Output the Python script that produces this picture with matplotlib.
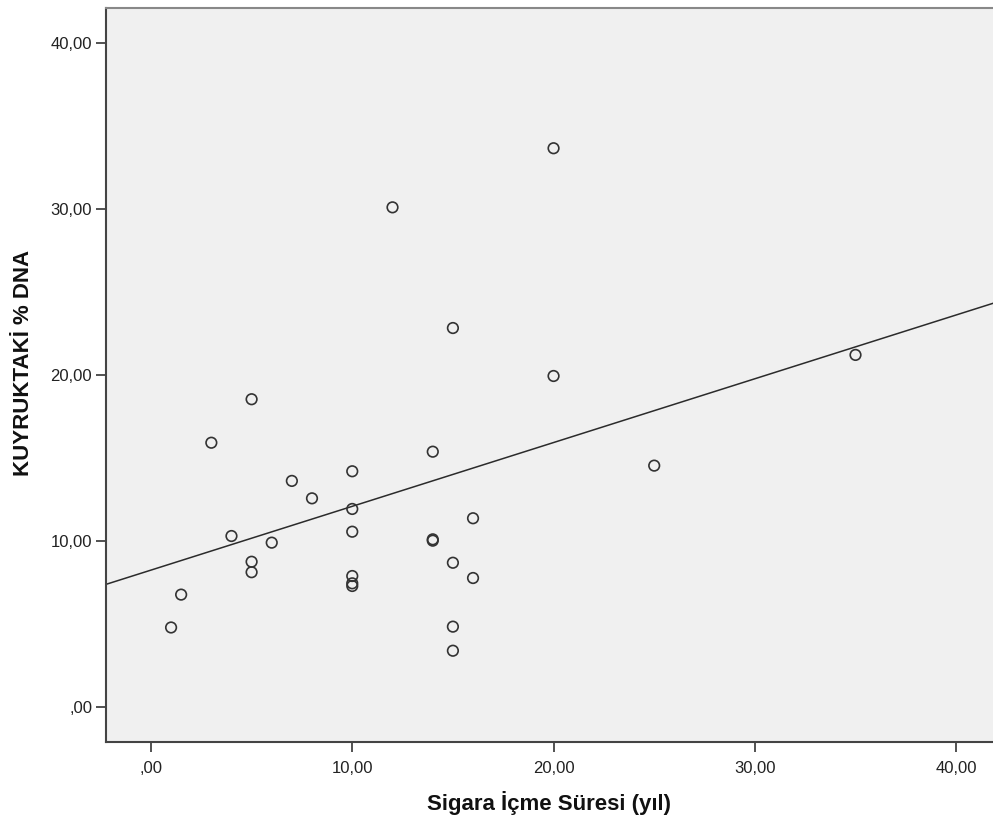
import numpy as np
import matplotlib
matplotlib.use("Agg")
import matplotlib.pyplot as plt
from matplotlib.ticker import FuncFormatter

# Data
smoking_years = [1, 1.5, 3, 4, 5, 5, 5, 6, 7, 8,
                 10, 10, 10, 10, 10, 10, 12, 14, 14, 14,
                 15, 15, 15, 15, 16, 16, 20, 20, 25, 35]
tail_dna = [4.77, 6.75, 15.9, 10.28, 18.52, 8.73, 8.10, 9.88, 13.6, 12.55,
            14.18, 11.91, 10.54, 7.87, 7.43, 7.27, 30.08, 15.36, 10.0, 10.08,
            22.81, 8.67, 4.82, 3.37, 11.35, 7.75, 33.64, 19.92, 14.52, 21.19]
x_ticks = [0, 10, 20, 30, 40]
y_ticks = [0, 10, 20, 30, 40]
x_label = "Sigara İçme Süresi (yıl)"
y_label = "KUYRUKTAKİ % DNA"

fig = plt.figure(figsize=(9.93, 8.22), dpi=100)
ax = fig.add_axes([0.1067, 0.0973, 0.8933, 0.893])
ax.set_facecolor("#f0f0f0")

xlim = (-2.235, 41.83)
ylim = (-2.13, 42.09)

# Linear fit line (drawn over the full x range)
slope, intercept = np.polyfit(smoking_years, tail_dna, 1)
xs = np.array(xlim)
ax.plot(xs, intercept + slope * xs, color="#2b2b2b", linewidth=1.1, zorder=2)

ax.scatter(smoking_years, tail_dna, s=58, facecolors="none",
           edgecolors="#333333", linewidths=1.2, zorder=3)

ax.set_xlim(*xlim)
ax.set_ylim(*ylim)


def comma_fmt(v, pos):
    s = f"{v:.2f}".replace(".", ",")
    if s.startswith("0,"):
        s = s[1:]
    return s


ax.set_xticks(x_ticks)
ax.set_yticks(y_ticks)
ax.xaxis.set_major_formatter(FuncFormatter(comma_fmt))
ax.yaxis.set_major_formatter(FuncFormatter(comma_fmt))

ax.tick_params(axis="both", direction="out", length=7, width=1.2,
               color="#333333", labelcolor="#222222")
ax.tick_params(axis="y", pad=3)
ax.tick_params(axis="x", pad=7)
for lbl in ax.get_yticklabels():
    lbl.set_family("Liberation Sans")
    lbl.set_fontsize(12)
for lbl in ax.get_xticklabels():
    lbl.set_family(["Liberation Sans Narrow", "Liberation Sans"])
    lbl.set_fontsize(12)

ax.spines["right"].set_visible(False)
ax.spines["left"].set_color("#444444")
ax.spines["bottom"].set_color("#444444")
ax.spines["top"].set_color("#888888")
for sp in ["left", "bottom", "top"]:
    ax.spines[sp].set_linewidth(1.5)

ax.set_xlabel(x_label, fontsize=16, fontweight="bold",
              family="Liberation Sans", color="#111111", va="center")
ax.set_ylabel(y_label, fontsize=16, fontweight="bold",
              family="Liberation Sans", color="#111111", va="center")
ax.xaxis.set_label_coords(0.5, -0.083)
ax.yaxis.set_label_coords(-0.093, 0.516)

fig.savefig("out.png", dpi=100)
